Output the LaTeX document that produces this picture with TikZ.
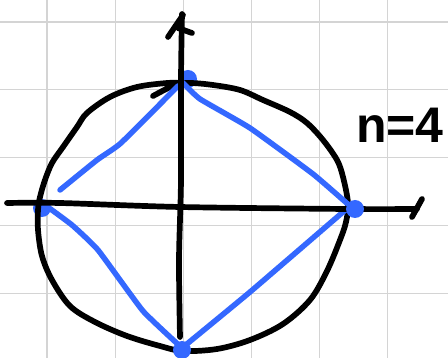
\documentclass[tikz,border=0pt]{standalone}
\usepackage{fontspec}
\setmainfont{Liberation Sans}
\definecolor{gridgray}{RGB}{212,212,212}
\definecolor{penblue}{RGB}{52,104,255}
\begin{document}
\begin{tikzpicture}[x=1pt,y=-1pt,
  gridline/.style={draw=gridgray,line width=1.7pt},
  ink/.style={draw=black,line width=5.7pt,line cap=round,line join=round},
  blueink/.style={draw=penblue,line width=5.5pt,line cap=round,line join=round},
  vdot/.style={circle,fill=penblue,inner sep=0pt,minimum size=18pt}]
\useasboundingbox (0,0) rectangle (448,358);
\fill[white] (0,0) rectangle (448,358);
% grid
\foreach \gx in {47.3,115.4,183.4,251.5,319.6,387.6} \draw[gridline] (\gx,0) -- (\gx,358);
\foreach \gy in {21.7,89.5,157.4,225.4,293.4} \draw[gridline] (0,\gy) -- (448,\gy);
% vertices
\coordinate (T) at (183,83);
\coordinate (L) at (45,205);
\coordinate (R) at (350,206);
\coordinate (B) at (182,348);
\node[vdot] (vt) at (188,79) {};
\node[vdot] (vl) at (42,208) {};
% circle
\draw[ink] plot[smooth,tension=0.55] coordinates {(153,96) (175,85) (190,83) (213,85) (240,90) (263,100) (290,112) (307,123) (323,140) (337,160) (343,177) (348,203) (346,222) (340,240) (327,271) (310,300) (283,324) (250,340) (217,349) (183,351) (160,346) (127,336) (95,322) (70,306) (52,280) (42,256) (38,230) (38,210) (40,197) (45,180) (52,163) (63,147) (77,127) (87,113) (110,97) (137,87) (167,83) (180,83)};
% blue polygon
\draw[blueink] plot[smooth,tension=0.25] coordinates {(T) (200,99) (250,128) (313,174) (R)};
\draw[blueink] plot[smooth,tension=0.25] coordinates {(178,86) (121,143) (97,160) (60,190)};
\draw[blueink] plot[smooth,tension=0.25] coordinates {(L) (72,225) (98,250) (143,311) (B)};
\draw[blueink] plot[smooth,tension=0.25] coordinates {(B) (250,292) (R)};
\node[vdot] (vb) at (182,350) {};
% axes
\coordinate (ytop) at (182,14);
\coordinate (ybot) at (180,337);
\coordinate (xl) at (7,203);
\coordinate (xr) at (417,209);
\draw[ink] plot[smooth] coordinates {(ytop) (181,80) (181,180) (179,260) (ybot)};
\draw[ink] (183,15) -- (168,37);
\draw[ink] (178,28) -- (192,33);
\draw[ink] plot[smooth] coordinates {(xl) (60,203) (180,207) (347,209) (xr)};
\draw[ink] (422,199) -- (412,217);
\node[vdot] (vr) at (355,209) {};
% label
\node[anchor=base west,inner sep=0pt,font=\bfseries\fontsize{50}{50}\selectfont] (lab) at (356,143) {n=4};
\end{tikzpicture}
\end{document}
